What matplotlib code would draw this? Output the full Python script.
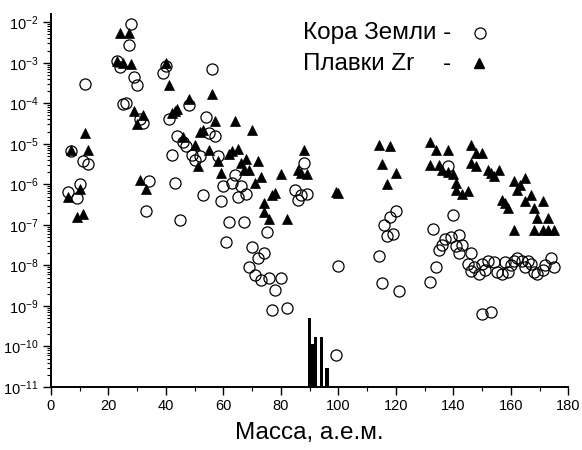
import numpy as np
import matplotlib
matplotlib.use('Agg')
import matplotlib.pyplot as plt
from matplotlib.ticker import MultipleLocator, LogLocator, NullFormatter

plt.rcParams['font.family'] = ['Liberation Sans', 'DejaVu Sans']
plt.rcParams['mathtext.fontset'] = 'custom'
plt.rcParams['mathtext.rm'] = 'Liberation Sans'
plt.rcParams['mathtext.it'] = 'Liberation Sans'
plt.rcParams['mathtext.bf'] = 'Liberation Sans'

# Кора Земли (circles)
crust_mass = [6, 7, 9, 10, 11, 12, 13,
              23, 24, 25, 26, 27, 28, 29, 30, 31, 32, 33, 34,
              39, 40, 41, 42, 43, 44, 45, 46, 47, 48, 49, 50,
              52, 53, 54, 55, 56, 57, 58, 59, 60, 61, 62, 63, 64, 65, 66, 67, 68,
              69, 70, 71, 72, 73, 74, 75, 76, 77, 78, 80, 82,
              85, 86, 87, 88, 89, 99, 100,
              114, 115, 116, 117, 118, 119, 120, 121,
              132, 133, 134, 135, 136, 137, 138, 139, 140, 141, 142, 142, 143,
              145, 146, 146, 147, 149, 150, 151, 152, 154, 155, 157, 158, 159,
              160, 161, 162, 164, 165, 166, 167, 168, 169, 171, 172, 174, 175,
              150, 153]
crust_val = [6.3e-7, 6.5e-6, 4.6e-7, 1.0e-6, 3.7e-6, 3.0e-4, 3.1e-6,
             1.1e-3, 7.9e-4, 9.8e-5, 1.0e-4, 2.8e-3, 8.9e-3, 4.4e-4, 2.8e-4, 4.0e-5, 3.2e-5, 2.2e-7, 1.2e-6,
             5.6e-4, 8.3e-4, 4.0e-5, 5.2e-6, 1.1e-6, 1.6e-5, 1.3e-7, 1.1e-5, 8.7e-6, 9.3e-5, 5.4e-6, 4.1e-6,
             4.9e-6, 5.5e-7, 4.7e-5, 1.9e-5, 6.9e-4, 1.6e-5, 4.9e-6, 3.8e-7, 8.9e-7, 3.7e-8, 1.2e-7, 1.1e-6,
             1.7e-6, 4.9e-7, 8.9e-7, 1.2e-7, 5.8e-7,
             8.9e-9, 2.8e-8, 5.8e-9, 1.5e-8, 4.4e-9, 2.0e-8, 6.8e-8, 5.0e-9, 7.9e-10, 2.5e-9, 5.0e-9, 9.1e-10,
             7.2e-7, 4.2e-7, 5.6e-7, 3.4e-6, 5.9e-7, 6.0e-11, 9.8e-9,
             1.7e-8, 3.7e-9, 1.0e-7, 5.4e-8, 1.6e-7, 5.9e-8, 2.2e-7, 2.3e-9,
             3.8e-9, 7.8e-8, 9.3e-9, 2.4e-8, 3.2e-8, 4.5e-8, 2.8e-6, 5.0e-8, 1.8e-7, 3.0e-8, 5.6e-8, 2.0e-8, 3.2e-8,
             1.1e-8, 2.0e-8, 7.4e-9, 9.3e-9, 6.3e-9, 1.1e-8, 7.8e-9, 1.3e-8, 1.2e-8, 6.9e-9, 6.3e-9, 1.2e-8, 6.9e-9,
             1.0e-8, 1.3e-8, 1.5e-8, 1.3e-8, 9.3e-9, 1.3e-8, 1.1e-8, 6.9e-9, 6.3e-9, 7.8e-9, 1.0e-8, 1.5e-8, 9.3e-9,
             6.5e-10, 7.1e-10]

# Плавки Zr (triangles)
melt_mass = [6, 7, 9, 10, 11, 12, 13,
             23, 24, 25, 27, 28, 29, 30, 31, 32, 33,
             40, 41, 42, 43, 44, 46, 48, 50, 51, 52, 53, 55, 56, 57, 58, 59,
             62, 63, 64, 65, 66, 67, 68, 69, 70, 71, 72, 73, 74, 74, 76, 77, 78, 80, 82,
             86, 87, 88, 89, 99, 100,
             114, 115, 117, 118, 120,
             132, 132, 134, 135, 136, 138, 138, 140, 141, 141, 143, 145,
             146, 146, 148, 148, 150, 152, 153, 154, 156, 157, 158, 159,
             161, 161, 162, 163, 165, 165, 167, 168, 168, 169, 171, 171, 173, 173, 175]
melt_val = [4.8e-7, 7.2e-6, 1.6e-7, 7.6e-7, 1.9e-7, 1.9e-5, 7.2e-6,
            1.1e-3, 5.5e-3, 1.0e-3, 5.5e-3, 9.1e-4, 6.3e-5, 3.0e-5, 1.3e-6, 5.2e-5, 7.6e-7,
            1.0e-3, 2.8e-4, 5.8e-5, 6.3e-5, 7.1e-5, 1.5e-5, 1.3e-4, 9.5e-6, 2.8e-6, 2.0e-5, 2.2e-5,
            6.9e-6, 1.7e-4, 3.6e-5, 3.7e-6, 1.9e-6,
            5.5e-6, 6.6e-6, 3.6e-5, 7.6e-6, 3.4e-6, 2.3e-6, 4.3e-6, 2.2e-6, 2.2e-5, 1.1e-6, 3.7e-6, 1.5e-6,
            3.5e-7, 2.1e-7, 1.4e-7, 5.5e-7, 6.0e-7, 1.8e-6, 1.4e-7,
            2.3e-6, 1.9e-6, 7.2e-6, 1.8e-6, 6.3e-7, 6.0e-7,
            9.3e-6, 3.1e-6, 1.0e-6, 8.7e-6, 1.9e-6,
            1.1e-5, 3.0e-6, 7.2e-6, 3.0e-6, 2.3e-6, 6.9e-6, 2.0e-6, 1.8e-6, 1.1e-6, 7.4e-7, 5.9e-7, 6.9e-7,
            9.5e-6, 3.4e-6, 5.9e-6, 2.8e-6, 5.9e-6, 2.3e-6, 1.9e-6, 1.6e-6, 2.2e-6, 4.2e-7, 3.5e-7, 2.6e-7,
            1.2e-6, 7.6e-8, 7.4e-7, 9.8e-7, 1.4e-6, 3.8e-7, 5.5e-7, 2.6e-7, 7.6e-8, 1.5e-7, 3.8e-7, 7.6e-8,
            1.5e-7, 7.6e-8, 7.6e-8]

# Zr isotopes (bars)
zr_mass = [90, 91, 92, 94, 96]
zr_val = [5.1e-10, 1.15e-10, 1.7e-10, 1.7e-10, 2.9e-11]

fig = plt.figure(figsize=(5.82, 4.5), dpi=100)
ax = fig.add_axes([0.0876, 0.14, 0.8892, 0.829])

ax.bar(zr_mass, zr_val, width=1.1, color='black', linewidth=0)
ax.plot(melt_mass, melt_val, '^', color='black', ms=7.4, mec='black', mew=0.5, linestyle='none')
ax.plot(crust_mass, crust_val, 'o', mfc='none', mec='black', ms=8, mew=0.9, linestyle='none')

ax.set_yscale('log')
ax.set_ylim(1e-11, 1.6e-2)
ax.set_xlim(0, 180)

ax.xaxis.set_major_locator(MultipleLocator(20))
ax.xaxis.set_minor_locator(MultipleLocator(10))
ax.yaxis.set_major_locator(LogLocator(base=10, numticks=20))
ax.yaxis.set_minor_locator(LogLocator(base=10, subs=np.arange(2, 10), numticks=200))
ax.yaxis.set_minor_formatter(NullFormatter())

for s in ['top', 'right']:
    ax.spines[s].set_visible(False)
for s in ['left', 'bottom']:
    ax.spines[s].set_linewidth(1.4)
ax.tick_params(which='major', direction='out', length=5.5, width=1.0, labelsize=10.5)
ax.tick_params(which='minor', direction='out', length=3, width=0.8)

ax.set_xlabel('Масса, а.е.м.', fontsize=17.5, labelpad=6)

# legend
fig.text(303 / 582, 1 - 33 / 450, 'Кора Земли -', fontsize=17.5, va='center', ha='left')
fig.text(303 / 582, 1 - 64 / 450, 'Плавки Zr', fontsize=17.5, va='center', ha='left')
fig.text(443 / 582, 1 - 64 / 450, '-', fontsize=17.5, va='center', ha='left')
ax.plot([480 / 582], [1 - 33 / 450], 'o', mfc='none', mec='black', ms=8, mew=0.9,
        transform=fig.transFigure, clip_on=False)
ax.plot([479 / 582], [1 - 63 / 450], '^', color='black', ms=7.4, transform=fig.transFigure, clip_on=False)

fig.savefig('out.png', dpi=100)
